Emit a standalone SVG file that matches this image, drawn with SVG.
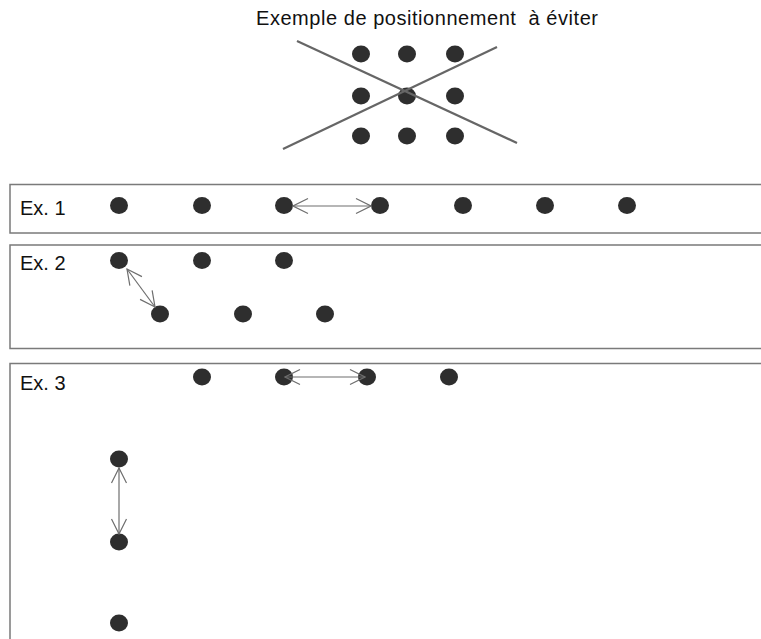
<svg xmlns="http://www.w3.org/2000/svg" width="761" height="639" viewBox="0 0 761 639">
<style>
.box{fill:none;stroke:#7a7a7a;stroke-width:1.5}
.dot{fill:#2e2e2e}
.lbl{font-family:"Liberation Sans",Arial,sans-serif;font-size:20px;fill:#111}
.arr{stroke:#6e6e6e;stroke-width:1.2;fill:none;marker-start:url(#ah);marker-end:url(#ah)}
.cross{stroke:#666;stroke-width:2.2}
</style>
<defs>
<marker id="ah" viewBox="0 0 17 18" refX="16" refY="9" markerWidth="17" markerHeight="18" markerUnits="userSpaceOnUse" orient="auto-start-reverse">
<path d="M1,1.5 L16,9 L1,16.5" fill="none" stroke="#6e6e6e" stroke-width="1.2"/>
</marker>
</defs>
<rect width="761" height="639" fill="#fff"/>
<g id="title">
<text class="lbl" x="256" y="25" textLength="342" lengthAdjust="spacing" xml:space="preserve">Exemple de positionnement  à éviter</text>
</g>
<g id="grid">
<ellipse class="dot" cx="361" cy="54" rx="9" ry="8.5"/>
<ellipse class="dot" cx="407" cy="54" rx="9" ry="8.5"/>
<ellipse class="dot" cx="455" cy="54" rx="9" ry="8.5"/>
<ellipse class="dot" cx="361" cy="96" rx="9" ry="8.5"/>
<ellipse class="dot" cx="407" cy="96" rx="9" ry="8.5"/>
<ellipse class="dot" cx="455" cy="96" rx="9" ry="8.5"/>
<ellipse class="dot" cx="361" cy="136" rx="9" ry="8.5"/>
<ellipse class="dot" cx="407" cy="136" rx="9" ry="8.5"/>
<ellipse class="dot" cx="455" cy="136" rx="9" ry="8.5"/>
<line class="cross" x1="297" y1="41" x2="517" y2="143"/>
<line class="cross" x1="283" y1="149" x2="497" y2="47"/>
</g>
<g id="ex1">
<rect class="box" x="10" y="184.5" width="770" height="48.5"/>
<text class="lbl" x="20" y="215">Ex. 1</text>
<ellipse class="dot" cx="119" cy="205.5" rx="9" ry="8.5"/>
<ellipse class="dot" cx="202" cy="205.5" rx="9" ry="8.5"/>
<ellipse class="dot" cx="284" cy="205.5" rx="9" ry="8.5"/>
<ellipse class="dot" cx="380" cy="205.5" rx="9" ry="8.5"/>
<ellipse class="dot" cx="463" cy="205.5" rx="9" ry="8.5"/>
<ellipse class="dot" cx="545" cy="205.5" rx="9" ry="8.5"/>
<ellipse class="dot" cx="627" cy="205.5" rx="9" ry="8.5"/>
</g>
<g id="ex2">
<rect class="box" x="10" y="245" width="770" height="103.5"/>
<text class="lbl" x="20" y="270">Ex. 2</text>
<ellipse class="dot" cx="119" cy="260.5" rx="9" ry="8.5"/>
<ellipse class="dot" cx="202" cy="260.5" rx="9" ry="8.5"/>
<ellipse class="dot" cx="284" cy="260.5" rx="9" ry="8.5"/>
<ellipse class="dot" cx="160" cy="314" rx="9" ry="8.5"/>
<ellipse class="dot" cx="243" cy="314" rx="9" ry="8.5"/>
<ellipse class="dot" cx="325" cy="314" rx="9" ry="8.5"/>
</g>
<g id="ex3">
<rect class="box" x="10" y="363.5" width="770" height="300"/>
<text class="lbl" x="20" y="390">Ex. 3</text>
<ellipse class="dot" cx="202" cy="377" rx="9" ry="8.5"/>
<ellipse class="dot" cx="284" cy="377" rx="9" ry="8.5"/>
<ellipse class="dot" cx="367" cy="377" rx="9" ry="8.5"/>
<ellipse class="dot" cx="449" cy="377" rx="9" ry="8.5"/>
<ellipse class="dot" cx="119" cy="459" rx="9" ry="8.5"/>
<ellipse class="dot" cx="119" cy="542" rx="9" ry="8.5"/>
<ellipse class="dot" cx="119" cy="623" rx="9" ry="8.5"/>
</g>
<g id="connectors">
<line class="arr" x1="293" y1="206" x2="371" y2="206"/>
<line class="arr" x1="127" y1="269" x2="155" y2="307"/>
<line class="arr" x1="285" y1="377" x2="365" y2="377"/>
<line class="arr" x1="119" y1="468" x2="119" y2="534"/>
</g>
</svg>
